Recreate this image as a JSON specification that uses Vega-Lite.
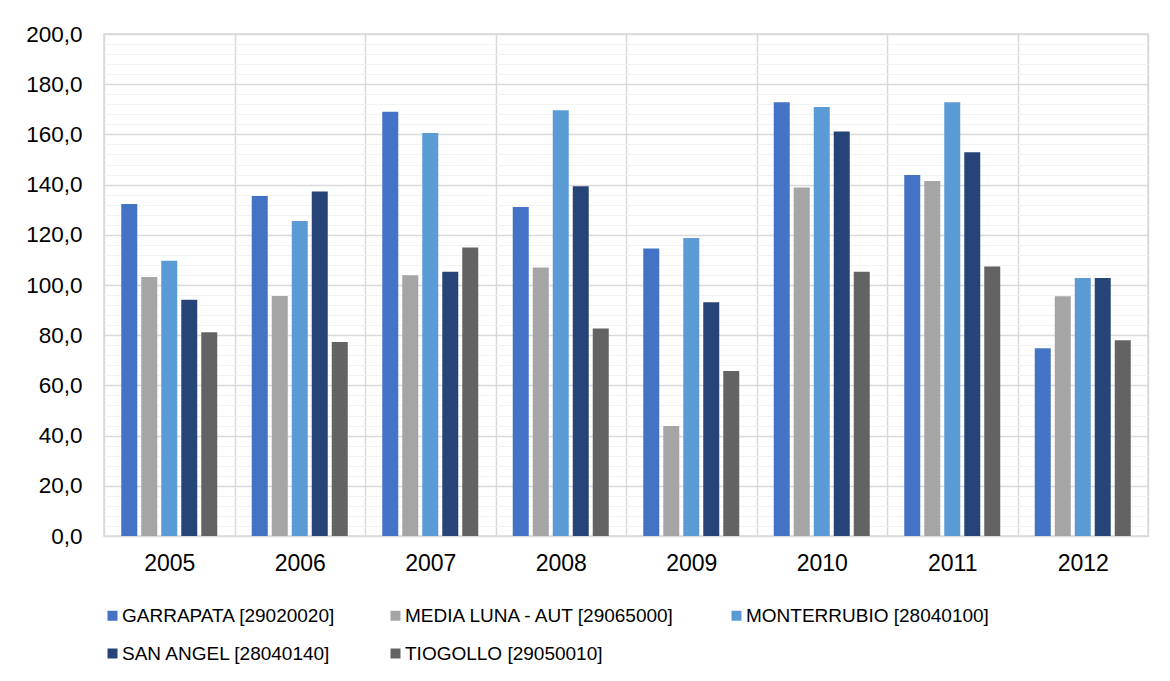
{
  "$schema": "https://vega.github.io/schema/vega-lite/v6.json",
  "width": 1044,
  "height": 502,
  "autosize": {"type": "none"},
  "padding": {"left": 104, "top": 34, "right": 22, "bottom": 145},
  "background": "white",
  "config": {
    "font": "Liberation Sans",
    "view": {"stroke": "#d9d9d9", "strokeWidth": 1.5}
  },
  "data": {
    "values": [
      {"year": "2005", "station": "GARRAPATA [29020020]", "value": 132.3},
      {"year": "2005", "station": "MEDIA LUNA - AUT [29065000]", "value": 103.2},
      {"year": "2005", "station": "MONTERRUBIO [28040100]", "value": 109.7},
      {"year": "2005", "station": "SAN ANGEL [28040140]", "value": 94.1},
      {"year": "2005", "station": "TIOGOLLO [29050010]", "value": 81.2},
      {"year": "2006", "station": "GARRAPATA [29020020]", "value": 135.5},
      {"year": "2006", "station": "MEDIA LUNA - AUT [29065000]", "value": 95.6},
      {"year": "2006", "station": "MONTERRUBIO [28040100]", "value": 125.5},
      {"year": "2006", "station": "SAN ANGEL [28040140]", "value": 137.3},
      {"year": "2006", "station": "TIOGOLLO [29050010]", "value": 77.3},
      {"year": "2007", "station": "GARRAPATA [29020020]", "value": 169.0},
      {"year": "2007", "station": "MEDIA LUNA - AUT [29065000]", "value": 103.9},
      {"year": "2007", "station": "MONTERRUBIO [28040100]", "value": 160.6},
      {"year": "2007", "station": "SAN ANGEL [28040140]", "value": 105.3},
      {"year": "2007", "station": "TIOGOLLO [29050010]", "value": 114.9},
      {"year": "2008", "station": "GARRAPATA [29020020]", "value": 131.1},
      {"year": "2008", "station": "MEDIA LUNA - AUT [29065000]", "value": 107.0},
      {"year": "2008", "station": "MONTERRUBIO [28040100]", "value": 169.6},
      {"year": "2008", "station": "SAN ANGEL [28040140]", "value": 139.3},
      {"year": "2008", "station": "TIOGOLLO [29050010]", "value": 82.7},
      {"year": "2009", "station": "GARRAPATA [29020020]", "value": 114.5},
      {"year": "2009", "station": "MEDIA LUNA - AUT [29065000]", "value": 43.8},
      {"year": "2009", "station": "MONTERRUBIO [28040100]", "value": 118.7},
      {"year": "2009", "station": "SAN ANGEL [28040140]", "value": 93.1},
      {"year": "2009", "station": "TIOGOLLO [29050010]", "value": 65.7},
      {"year": "2010", "station": "GARRAPATA [29020020]", "value": 172.8},
      {"year": "2010", "station": "MEDIA LUNA - AUT [29065000]", "value": 138.8},
      {"year": "2010", "station": "MONTERRUBIO [28040100]", "value": 170.9},
      {"year": "2010", "station": "SAN ANGEL [28040140]", "value": 161.2},
      {"year": "2010", "station": "TIOGOLLO [29050010]", "value": 105.3},
      {"year": "2011", "station": "GARRAPATA [29020020]", "value": 143.8},
      {"year": "2011", "station": "MEDIA LUNA - AUT [29065000]", "value": 141.4},
      {"year": "2011", "station": "MONTERRUBIO [28040100]", "value": 172.8},
      {"year": "2011", "station": "SAN ANGEL [28040140]", "value": 152.9},
      {"year": "2011", "station": "TIOGOLLO [29050010]", "value": 107.4},
      {"year": "2012", "station": "GARRAPATA [29020020]", "value": 74.8},
      {"year": "2012", "station": "MEDIA LUNA - AUT [29065000]", "value": 95.5},
      {"year": "2012", "station": "MONTERRUBIO [28040100]", "value": 102.8},
      {"year": "2012", "station": "SAN ANGEL [28040140]", "value": 102.8},
      {"year": "2012", "station": "TIOGOLLO [29050010]", "value": 78.0}
    ]
  },
  "mark": {"type": "bar"},
  "encoding": {
    "x": {
      "field": "year",
      "type": "nominal",
      "scale": {"paddingInner": 0, "paddingOuter": 0},
      "axis": {
        "title": null,
        "labelAngle": 0,
        "tickBand": "extent",
        "ticks": false,
        "domain": false,
        "grid": true,
        "gridColor": "#d9d9d9",
        "gridWidth": 1.5,
        "labelFontSize": 23,
        "labelColor": "#000000",
        "labelPadding": 16
      }
    },
    "xOffset": {
      "field": "station",
      "type": "nominal",
      "sort": ["GARRAPATA [29020020]", "MEDIA LUNA - AUT [29065000]", "MONTERRUBIO [28040100]", "SAN ANGEL [28040140]", "TIOGOLLO [29050010]"],
      "scale": {"paddingInner": 0.2, "paddingOuter": 0.8625}
    },
    "y": {
      "field": "value",
      "type": "quantitative",
      "scale": {"domain": [0, 200], "nice": false},
      "axis": {
        "title": null,
        "values": [0, 4, 8, 12, 16, 20, 24, 28, 32, 36, 40, 44, 48, 52, 56, 60, 64, 68, 72, 76, 80, 84, 88, 92, 96, 100, 104, 108, 112, 116, 120, 124, 128, 132, 136, 140, 144, 148, 152, 156, 160, 164, 168, 172, 176, 180, 184, 188, 192, 196, 200],
        "labelExpr": "datum.value % 20 === 0 ? replace(format(datum.value, '.1f'), '.', ',') : ''",
        "labelOverlap": false,
        "gridColor": {"condition": {"test": "datum.value % 20 === 0", "value": "#d9d9d9"}, "value": "#f2f2f2"},
        "gridWidth": {"condition": {"test": "datum.value % 20 === 0", "value": 1.5}, "value": 1},
        "ticks": false,
        "domain": false,
        "labelFontSize": 22.5,
        "labelColor": "#000000",
        "labelPadding": 22
      }
    },
    "color": {
      "field": "station",
      "type": "nominal",
      "scale": {
        "domain": ["GARRAPATA [29020020]", "MEDIA LUNA - AUT [29065000]", "MONTERRUBIO [28040100]", "SAN ANGEL [28040140]", "TIOGOLLO [29050010]"],
        "range": ["#4472C4", "#A5A5A5", "#5B9BD5", "#264478", "#636363"]
      },
      "legend": {
        "title": null,
        "orient": "none",
        "legendX": -1,
        "legendY": 572,
        "direction": "horizontal",
        "columns": 3,
        "columnPadding": 50,
        "rowPadding": 18,
        "symbolType": "square",
        "symbolSize": 100,
        "symbolStrokeWidth": 0,
        "labelFontSize": 19,
        "labelColor": "#000000",
        "labelOffset": 0,
        "labelLimit": 0,
        "padding": 0
      }
    }
  }
}
